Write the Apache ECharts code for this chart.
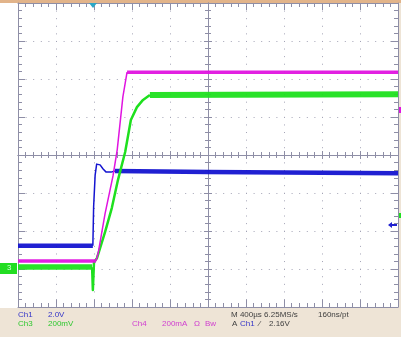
<!DOCTYPE html>
<html><head><meta charset="utf-8">
<script src="https://cdn.jsdelivr.net/npm/echarts@6/dist/echarts.min.js"></script>
<style>
html,body{margin:0;padding:0;background:#EEE4D6;}
#wrap{position:relative;width:401px;height:337px;background:#EEE4D6;overflow:hidden;}
#white{position:absolute;left:0;top:3px;width:398px;height:305px;background:#fff;}
#topbar{position:absolute;left:0;top:0;width:401px;height:3px;background:#E2B48A;}
#chart{position:absolute;left:0;top:0;width:401px;height:337px;}
</style></head>
<body><div id="wrap"><div id="white"></div><div id="topbar"></div><div id="chart"></div></div>
<script>
// Values in screen divisions (x: -5..5, y: -4..4)
const ch1Low = -2.39, ch1LowEnd = -3.03;
const ch1Edge = [[-3.03,-2.39],[-3.01,-1.37],[-2.97,-0.53],[-2.93,-0.24],[-2.89,-0.21],[-2.84,-0.26],[-2.76,-0.37],[-2.68,-0.45],[-2.63,-0.50],[-2.55,-0.45],[-2.45,-0.42]];
const ch1High = [[-2.45,-0.42],[0,-0.45],[5,-0.48]];

const ch4Low = -2.79, ch4LowEnd = -2.95;
const ch4Edge = [[-2.95,-2.79],[-2.89,-2.58],[-2.71,-1.55],[-2.50,-0.55],[-2.39,0.13],[-2.24,1.53],[-2.13,2.18]];
const ch4High = [[-2.13,2.18],[5,2.18]];

const ch3Low = -2.95, ch3LowEnd = -3.05;
const ch3Edge = [[-3.05,-2.95],[-3.03,-3.55],[-3.00,-2.82],[-2.92,-2.71],[-2.87,-2.66],[-2.71,-2.03],[-2.53,-1.39],[-2.37,-0.66],[-2.18,0.08],[-2.03,0.92],[-1.87,1.26],[-1.71,1.45],[-1.53,1.58]];
const ch3High = [[-1.53,1.58],[5,1.60]];

const labelsRow1 = [["Ch1",18,"#3535C8"],["2.0V",48,"#3535C8"],["M 400µs 6.25MS/s",231,"#404040"],["160ns/pt",318,"#404040"]];
const labelsRow2 = [["Ch3",18,"#30C830"],["200mV",48,"#30C830"],["Ch4",132,"#D040D0"],["200mA",162,"#D040D0"],["Ω",194,"#D040D0"],["Bw",205,"#D040D0"],["A",232,"#404040"],["Ch1",240,"#3535C8"],["⁄",259,"#404040"],["2.16V",269,"#404040"]];

const BLUE = "#1414D0", MAG = "#E014E0", GRN = "#1EE01E";
const axisC = "#8E8EA6", dotC = "#A4A4B6";

const chart = echarts.init(document.getElementById('chart'), null, {renderer:'canvas'});

function xa(o){return Object.assign({type:'value',min:-5,max:5,interval:1,axisLabel:{show:false},splitLine:{show:false},
  axisLine:{show:true,lineStyle:{color:axisC,width:1}},axisTick:{show:true,lineStyle:{color:axisC}},minorTick:{show:true,splitNumber:5,lineStyle:{color:axisC}}},o);}
function ya(o){return Object.assign({type:'value',min:-4,max:4,interval:1,axisLabel:{show:false},splitLine:{show:false},
  axisLine:{show:true,lineStyle:{color:axisC,width:1}},axisTick:{show:true,lineStyle:{color:axisC}},minorTick:{show:true,splitNumber:5,lineStyle:{color:axisC}}},o);}

function seg(data,color,w,z,op){return {type:'line',data:data,showSymbol:false,symbol:'none',z:z,animation:false,silent:true,clip:true,
  lineStyle:{color:color,width:w,join:'round',cap:'butt',opacity:op||1}};}

const gtext = [];
labelsRow1.forEach(l=>gtext.push({type:'text',left:l[1],top:311,style:{text:l[0],fill:l[2],font:'8px "Liberation Sans", Arial, sans-serif'}}));
labelsRow2.forEach(l=>gtext.push({type:'text',left:l[1],top:320,style:{text:l[0],fill:l[2],font:'8px "Liberation Sans", Arial, sans-serif'}}));

chart.setOption({
  animation:false,
  backgroundColor:'transparent',
  grid:{left:18,right:3,top:3,bottom:30,containLabel:false},
  xAxis:[
    xa({position:'bottom',axisLine:{onZero:true,lineStyle:{color:axisC}},axisTick:{inside:true,length:4,lineStyle:{color:axisC}},minorTick:{show:true,splitNumber:5,length:3,lineStyle:{color:axisC}},
        splitLine:{show:true,lineStyle:{color:dotC,width:1,type:[1,6.59]}}}),
    xa({position:'bottom',axisLine:{onZero:true,lineStyle:{color:axisC}},axisTick:{inside:false,length:4,lineStyle:{color:axisC}},minorTick:{show:true,splitNumber:5,length:3,lineStyle:{color:axisC}}}),
    xa({position:'bottom',axisLine:{onZero:false,lineStyle:{color:axisC}},axisTick:{inside:true,length:7,lineStyle:{color:axisC}},minorTick:{show:true,splitNumber:5,length:4,lineStyle:{color:axisC}}}),
    xa({position:'top',axisLine:{onZero:false,lineStyle:{color:axisC}},axisTick:{inside:true,length:7,lineStyle:{color:axisC}},minorTick:{show:true,splitNumber:5,length:4,lineStyle:{color:axisC}}})
  ],
  yAxis:[
    ya({position:'left',axisLine:{onZero:true,lineStyle:{color:axisC}},axisTick:{inside:true,length:4,lineStyle:{color:axisC}},minorTick:{show:true,splitNumber:5,length:3,lineStyle:{color:axisC}},
        splitLine:{show:true,lineStyle:{color:dotC,width:1,type:[1,6.6]}}}),
    ya({position:'left',axisLine:{onZero:true,lineStyle:{color:axisC}},axisTick:{inside:false,length:4,lineStyle:{color:axisC}},minorTick:{show:true,splitNumber:5,length:3,lineStyle:{color:axisC}}}),
    ya({position:'left',axisLine:{onZero:false,lineStyle:{color:axisC}},axisTick:{inside:true,length:7,lineStyle:{color:axisC}},minorTick:{show:true,splitNumber:5,length:4,lineStyle:{color:axisC}}}),
    ya({position:'right',axisLine:{onZero:false,lineStyle:{color:axisC}},axisTick:{inside:true,length:7,lineStyle:{color:axisC}},minorTick:{show:true,splitNumber:5,length:4,lineStyle:{color:axisC}}})
  ],
  series:[
    seg([[-5,ch1Low],[ch1LowEnd,ch1Low]],BLUE,4.5,3,0.95),
    seg(ch1Edge,BLUE,1.5,3),
    seg(ch1High,BLUE,4.5,3,0.95),
    seg([[-5,ch3Low],[ch3LowEnd,ch3Low]],GRN,5.5,4,0.95),
    seg(ch3Edge,GRN,2.5,4),
    seg(ch3High,GRN,6,4,0.95),
    seg([[-5,ch4Low],[ch4LowEnd,ch4Low]],MAG,3.5,5,0.95),
    seg(ch4Edge,MAG,1.5,5),
    seg(ch4High,MAG,3.5,5,0.95)
  ],
  graphic:[
    {type:'polygon',shape:{points:[[89,3],[97,3],[93,8]]},style:{fill:'#2AA6C6'},z:10},
    {type:'rect',shape:{x:0,y:263,width:17,height:11},style:{fill:'#22DD22'},z:10},
    {type:'text',left:7,top:264,style:{text:'3',fill:'#D8FFD8',font:'8px "Liberation Sans", Arial, sans-serif'},z:11},
    {type:'polygon',shape:{points:[[388,225],[392,222],[392,224],[397,224],[397,226],[392,226],[392,228]]},style:{fill:'#2020D0'},z:10},
    {type:'rect',shape:{x:399,y:213,width:2,height:5},style:{fill:GRN},z:10},
    {type:'rect',shape:{x:399,y:107,width:2,height:6},style:{fill:MAG},z:10}
  ].concat(gtext)
});
</script></body></html>
